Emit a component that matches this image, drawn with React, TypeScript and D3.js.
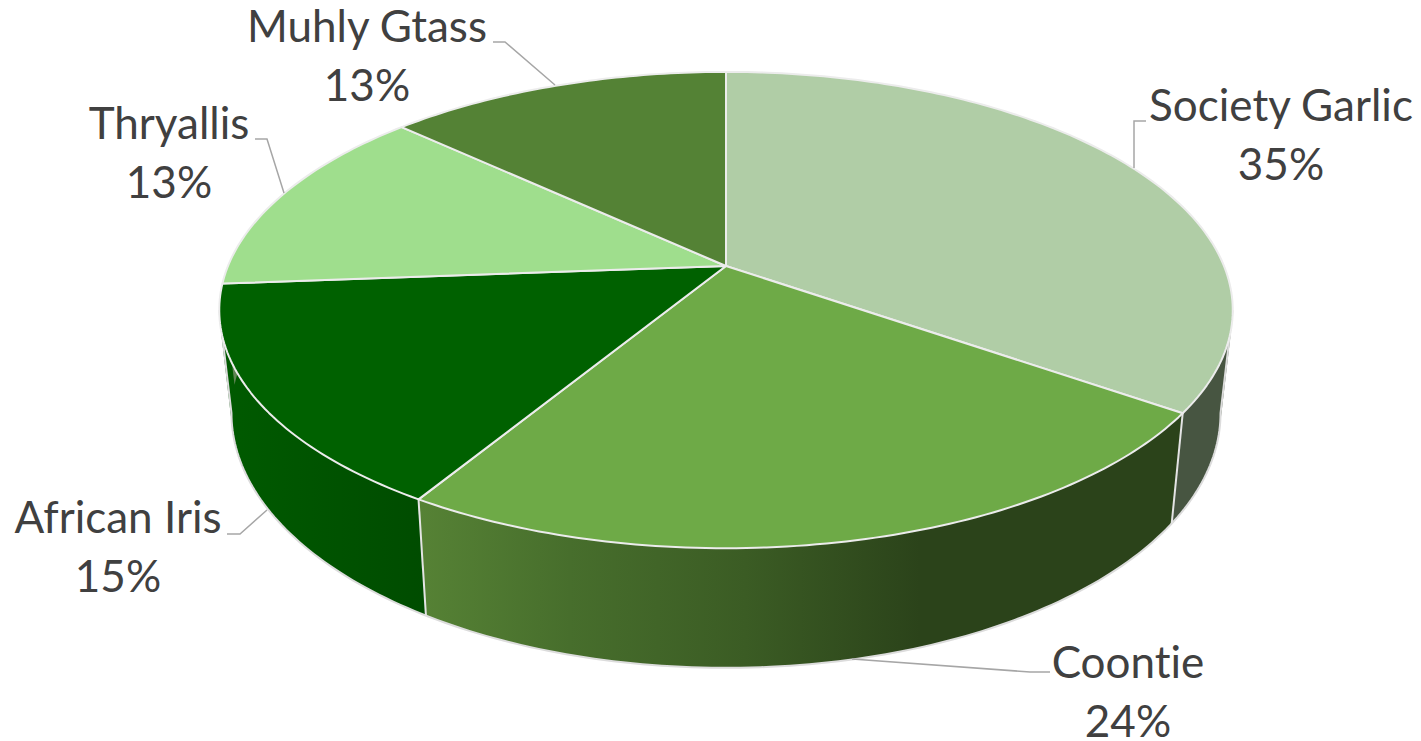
import React, { useEffect, useRef } from 'react'
import * as d3 from 'd3'

const categories = ['Society Garlic', 'Coontie', 'African Iris', 'Thryallis', 'Muhly Gtass']
const shares = [34.7, 24.0, 15.1, 13.1, 13.1]
const percentLabels = ['35%', '24%', '15%', '13%', '13%']

const topColors = ['#b0cda6', '#6eaa47', '#006100', '#9fde8d', '#548235']
const wallColors = ['#475541', 'url(#coontieWall)', 'url(#irisWall)', '#5f8554', '#324e20']

// label centre, first baseline, leader polyline (px)
const labelLayout = [
  { x: 1281, y: 121, leader: [[1146, 121], [1134, 121], [1134, 168]] },
  { x: 1128, y: 678, leader: [[1050, 672], [1030, 672], [852, 659]] },
  { x: 118, y: 533, leader: [[227, 534], [240, 534], [267, 510]] },
  { x: 169, y: 139, leader: [[255, 139], [267, 139], [284, 193]] },
  { x: 367, y: 42, leader: [[493, 42], [505, 42], [555, 85]] },
]

const WIDTH = 1421
const HEIGHT = 741
const CX = 726
const PERSPECTIVE = 0.185
const topDisc = { a: 498, b: 230, cy: 266 }
const bottomDisc = { a: 486, b: 246, cy: 366 }

type Disc = typeof topDisc
type Pt = [number, number]

// circle seen in perspective: angle clockwise from 12 o'clock to screen point
const project = (disc: Disc, angle: number): Pt => {
  const u = Math.sin(angle)
  const v = Math.cos(angle)
  const w = 1 + PERSPECTIVE * v
  return [CX + (disc.a * u) / w, disc.cy - (disc.b * v) / w]
}

const sampleAngles = (start: number, end: number): number[] => {
  const n = Math.max(2, Math.ceil((end - start) * 60))
  return d3.range(n + 1).map((i) => start + ((end - start) * i) / n)
}

const arcPoints = (disc: Disc, start: number, end: number): Pt[] =>
  sampleAngles(start, end).map((a) => project(disc, a))

export default function App() {
  const svgRef = useRef<SVGSVGElement>(null)

  useEffect(() => {
    if (!svgRef.current) return
    const svg = d3.select(svgRef.current)
    svg.selectAll('*').remove()

    const defs = svg.append('defs')
    const addGradient = (id: string, x1: number, x2: number, stops: [number, string][]) => {
      const g = defs
        .append('linearGradient')
        .attr('id', id)
        .attr('gradientUnits', 'userSpaceOnUse')
        .attr('x1', x1)
        .attr('x2', x2)
        .attr('y1', 0)
        .attr('y2', 0)
      stops.forEach(([o, c]) => g.append('stop').attr('offset', o).attr('stop-color', c))
    }
    addGradient('coontieWall', 420, 920, [
      [0, '#568235'],
      [0.3, '#476e2c'],
      [0.65, '#3b5c24'],
      [1, '#2b431a'],
    ])
    addGradient('irisWall', 225, 425, [
      [0, '#005a00'],
      [0.5, '#005300'],
      [1, '#004c00'],
    ])

    const pie = d3.pie<number>().sort(null).value((d) => d)
    const slices = pie(shares)
    const line = d3.line<Pt>()

    // the wall is a ruled surface: one path of same-winding quads gives the true silhouette
    const walls = svg.append('g')
    slices.forEach((s, i) => {
      const quads = d3.pairs(sampleAngles(s.startAngle, s.endAngle)).map(([a0, a1]) => {
        const quad = [project(topDisc, a0), project(topDisc, a1), project(bottomDisc, a1), project(bottomDisc, a0)]
        if (d3.polygonArea(quad) < 0) quad.reverse()
        return line(quad) + 'Z'
      })
      walls
        .append('path')
        .attr('d', quads.join(''))
        .attr('fill', wallColors[i])
        .attr('fill-rule', 'nonzero')
    })

    // outer rim: silhouette rulings and the lower edge
    const tangent = Math.acos(-PERSPECTIVE)
    const rimStart = tangent
    const rimEnd = 2 * Math.PI - tangent
    const rim: Pt[] = [
      project(topDisc, rimStart),
      ...arcPoints(bottomDisc, rimStart, rimEnd),
      project(topDisc, rimEnd),
    ]
    walls
      .append('path')
      .attr('d', line(rim))
      .attr('fill', 'none')
      .attr('stroke', '#dcdcdc')
      .attr('stroke-width', 2)

    // separators between wall pieces
    slices.forEach((s) => {
      if (s.endAngle < rimStart || s.endAngle > rimEnd) return
      walls
        .append('path')
        .attr('d', line([project(topDisc, s.endAngle), project(bottomDisc, s.endAngle)]))
        .attr('stroke', '#e4e4e4')
        .attr('stroke-width', 2)
    })

    const faces = svg.append('g')
    slices.forEach((s, i) => {
      const pts: Pt[] = [[CX, topDisc.cy], ...arcPoints(topDisc, s.startAngle, s.endAngle)]
      faces
        .append('path')
        .attr('d', line(pts) + 'Z')
        .attr('fill', topColors[i])
        .attr('stroke', '#ececec')
        .attr('stroke-width', 2)
        .attr('stroke-linejoin', 'round')
    })

    const labels = svg.append('g')
    labelLayout.forEach((l, i) => {
      labels
        .append('path')
        .attr('d', line(l.leader as Pt[]))
        .attr('fill', 'none')
        .attr('stroke', '#a6a6a6')
        .attr('stroke-width', 1.5)
      const text = labels
        .append('text')
        .attr('text-anchor', 'middle')
        .attr('font-family', 'Lato, sans-serif')
        .attr('font-size', 44)
        .attr('fill', '#404040')
        .style('font-variant-ligatures', 'none')
      text.append('tspan').attr('x', l.x).attr('y', l.y).text(categories[i])
      text.append('tspan').attr('x', l.x).attr('y', l.y + 59).text(percentLabels[i])
    })
  }, [])

  return (
    <svg
      ref={svgRef}
      width={WIDTH}
      height={HEIGHT}
      style={{ position: 'absolute', left: 0, top: 0, display: 'block', background: '#fff' }}
    />
  )
}
